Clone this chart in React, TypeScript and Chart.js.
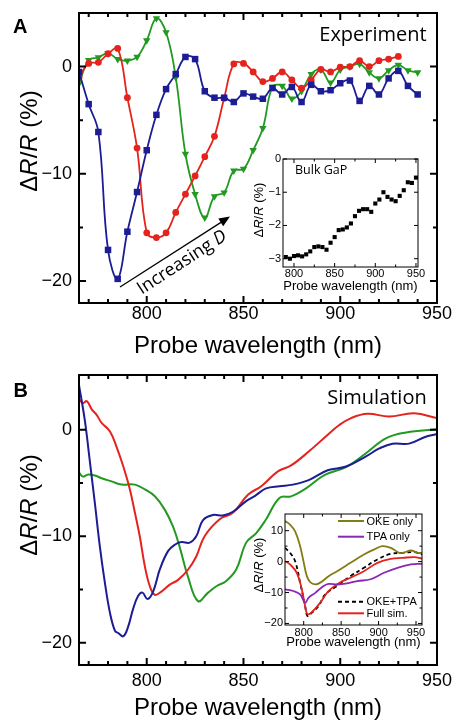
import React, { useEffect, useRef } from 'react';
import { Chart, registerables } from 'chart.js';

Chart.register(...registerables);
Chart.defaults.font.family = "'Liberation Sans', Arial, Helvetica, sans-serif";
Chart.defaults.color = '#000';

// ---------------- Panel A: experiment ----------------
const expWavelength = [765, 770, 775, 780, 785, 790, 795, 800, 805, 810, 815, 820, 825, 830, 835, 840, 845, 850, 855, 860, 865, 870, 875, 880, 885, 890, 895, 900, 905, 910, 915, 920, 925, 930, 935, 940];
const expBlue = [-0.5, -3.5, -6.1, -17.1, -19.8, -15.4, -11.7, -7.8, -4.5, -2.1, -0.7, 0.9, 0.7, -2.3, -2.9, -2.9, -3.3, -2.5, -2.8, -3.0, -2.0, -2.6, -1.9, -3.3, -1.7, -2.3, -2.2, -1.55, -1.3, -3.2, -1.8, -2.6, -1.1, -0.4, -1.8, -2.6];
const expRedWavelength = [765, 770, 775, 780, 785, 790, 795, 800, 805, 810, 815, 820, 825, 830, 835, 840, 845, 850, 855, 860, 865, 870, 875, 880, 885, 890, 895, 900, 905, 910, 915, 920, 925, 930];
const expRed = [-1.0, 0.3, 0.4, 1.2, 1.7, -2.9, -7.6, -15.5, -15.95, -15.5, -13.6, -11.9, -10.2, -8.4, -6.5, -2.95, 0.25, 0.3, -0.5, -1.4, -1.1, -0.5, -1.25, -2.0, -1.25, -0.25, -0.5, -0.05, 0, 0.55, 0, 0.55, 0.7, 0.95];
const expGreen = [-1.6, 0.6, 0.85, 1.25, 0.7, 0.55, 0.9, 2.45, 4.5, 3.2, -1.0, -8.15, -11.9, -14.1, -12.1, -11.75, -9.7, -9.55, -7.8, -5.75, -1.9, -1.8, -3.0, -2.3, -0.7, -0.3, -1.5, -0.3, 0, 0.25, -0.55, -1.1, -0.35, 0.15, -0.35, -0.55];

// Inset A: bulk GaP
const bulkWavelength = [790, 795, 800, 805, 810, 815, 820, 825, 830, 835, 840, 845, 850, 855, 860, 865, 870, 875, 880, 885, 890, 895, 900, 905, 910, 915, 920, 925, 930, 935, 940, 945, 950];
const bulkGaP = [-2.95, -3.0, -2.92, -2.9, -2.93, -2.87, -2.78, -2.65, -2.63, -2.65, -2.73, -2.52, -2.35, -2.14, -2.12, -2.06, -1.94, -1.72, -1.56, -1.51, -1.51, -1.59, -1.34, -1.22, -1.0, -1.14, -1.22, -1.27, -1.11, -0.94, -0.7, -0.72, -0.56];

// ---------------- Panel B: simulation ----------------
const simBlueWavelength = [765, 768, 770.7, 773.2, 775.8, 778.4, 781, 783.6, 785.3, 787.9, 790.4, 793, 795.6, 797.8, 800.4, 803.3, 806.8, 811, 814.5, 817.9, 822.2, 825.6, 829, 834.2, 839.4, 844.5, 851.4, 856, 861.7, 868.6, 875.5, 884, 893.5, 903, 913.3, 920.2, 927, 935.6, 944.2, 950];
const simBlue = [4.2, 0.9, -3.1, -6.9, -11.0, -14.4, -17.2, -18.9, -19.1, -19.4, -18.5, -16.8, -15.6, -15.3, -15.9, -15.2, -13.1, -11.4, -10.8, -10.55, -10.6, -10.0, -8.5, -8.0, -8.05, -7.7, -6.7, -6.2, -5.5, -5.3, -5.15, -4.7, -3.8, -3.45, -2.5, -1.75, -1.3, -1.3, -0.65, -0.4];
const simRedWavelength = [765, 767, 769, 771.5, 774.1, 776.7, 781, 784.4, 787.9, 791.3, 793.9, 796.4, 799, 801.6, 804.2, 807.6, 811.9, 816.2, 821.3, 825.6, 829.9, 837.7, 844.5, 852.3, 859.2, 867.8, 874.6, 884, 892.7, 899.5, 905.6, 914.1, 925.3, 938.2, 950];
const simRed = [2.9, 2.5, 2.7, 1.95, 1.4, 0.65, -0.15, -1.6, -3.45, -5.6, -7.8, -10.0, -12.8, -14.7, -15.5, -15.2, -14.55, -14.1, -13.15, -11.9, -10.0, -8.4, -7.8, -6.1, -5.3, -3.9, -3.35, -2.0, -0.6, 0.45, 1.1, 1.5, 1.25, 1.55, 1.1];
const simGreenWavelength = [765, 767, 769.8, 773.2, 776.7, 781.8, 787, 793.9, 799, 804.2, 809.3, 813.6, 817, 821.3, 826.5, 831.7, 836, 841.1, 846.3, 851.4, 856.6, 861.7, 868.6, 874.6, 882.3, 891.8, 903, 913.3, 923.6, 934, 950];
const simGreen = [-4.0, -4.4, -4.2, -4.3, -4.55, -4.85, -5.15, -5.15, -5.6, -6.25, -7.5, -9.1, -11.0, -13.8, -16.1, -15.3, -14.7, -14.2, -13.1, -10.6, -9.7, -8.4, -6.4, -6.25, -5.5, -4.25, -3.5, -2.2, -0.8, -0.25, 0.05];

// Inset B: contributions
const okeWavelength = [775, 781.7, 788.5, 795.2, 799.6, 804.2, 808.6, 815.4, 822.1, 833.3, 844.6, 862.5, 880.4, 893.8, 905.1, 916.3, 927.5, 932, 943.2, 952.2, 958];
const okeOnly = [13.1, 12.0, 9.8, 5.0, 0.2, -4.7, -6.6, -7.35, -6.8, -4.7, -3.1, -0.4, 2.3, 3.9, 5.0, 4.45, 2.85, 2.8, 3.6, 2.85, 2.8];
const tpaWavelength = [775, 786.2, 795.2, 801.9, 806.4, 815.4, 826.6, 833.3, 844.6, 857.9, 871.4, 889.4, 907.3, 925.3, 943.2, 958];
const tpaOnly = [-9.0, -9.5, -10.6, -13.3, -11.7, -10.1, -7.9, -7.2, -7.4, -7.05, -6.3, -5.7, -3.6, -2.0, -0.9, -0.7];
const sumWavelength = [775, 781.7, 788.5, 795.2, 801.9, 805.1, 811, 819.8, 828.8, 844.6, 862.5, 880.4, 898.4, 916.3, 932, 947.7, 958];
const okePlusTpa = [4.45, 2.85, 0.15, -6.8, -14.4, -17.6, -16.5, -14.4, -10.6, -7.9, -4.7, -2.0, 0.7, 2.5, 2.85, 3.05, 2.3];
const fullWavelength = [775, 781.7, 790.7, 797.5, 801.9, 805, 811, 822, 833.3, 846.8, 862.5, 880.4, 898.4, 916.3, 932, 947.7, 958];
const fullSim = [0.15, -0.9, -3.6, -9.0, -14.4, -17.0, -16.3, -13.3, -9.5, -7.0, -5.2, -3.1, -0.4, 0.9, 1.2, 1.45, 1.0];

// ---------------- tick values ----------------
const mainXTicks = [800, 850, 900, 950];
const mainXMinor = [770, 780, 790, 810, 820, 830, 840, 860, 870, 880, 890, 910, 920, 930, 940];
const mainYTicks = [-20, -10, 0];
const mainYMinor = [-15, -5];
const insetXTicks = [800, 850, 900, 950];
const insetXMinor = [825, 875, 925];
const insetAYTicks = [-3, -2, -1, 0];
const insetBYTicks = [-20, -10, 0, 10];
const insetBYMinor = [-15, -5, 5];

const BLUE = '#1c1c94';
const RED = '#e5231d';
const GREEN = '#229a22';
const OLIVE = '#857b14';
const PURPLE = '#8b27b4';

const pairs = (xs: number[], ys: number[]) => xs.map((x, i) => ({ x, y: ys[i] }));
const fmt = (v: number) => (v < 0 ? '\u2212' + Math.abs(v) : String(v));

interface Spec {
  width: number;
  height: number;
  padding: { left: number; right: number; top: number; bottom: number };
  yAxisWidth: number;
  xAxisHeight: number;
  xMin: number; xMax: number; yMin: number; yMax: number;
  xTicks: number[]; xMinor: number[]; yTicks: number[]; yMinor: number[];
  tickSize: number; xTickPad: number; yTickPad: number;
  titleSize: number; titlePad: number;
  frameWidth: number; majorLen: number; minorLen: number;
  fillArea: boolean;
  datasets: any[];
}

function framePlugin(spec: Spec) {
  return {
    id: 'frameTicks',
    beforeDatasetsDraw(chart: any) {
      if (!spec.fillArea) return;
      const { ctx, chartArea: a } = chart;
      ctx.save();
      ctx.fillStyle = '#fff';
      ctx.fillRect(a.left, a.top, a.right - a.left, a.bottom - a.top);
      ctx.restore();
    },
    afterDraw(chart: any) {
      const { ctx, chartArea: a, scales } = chart;
      const xs = scales.x;
      const ys = scales.y;
      ctx.save();
      ctx.strokeStyle = '#000';
      ctx.lineWidth = spec.frameWidth;
      ctx.beginPath();
      const xt = (vals: number[], len: number) =>
        vals.forEach((v) => {
          const p = xs.getPixelForValue(v);
          ctx.moveTo(p, a.bottom);
          ctx.lineTo(p, a.bottom - len);
          ctx.moveTo(p, a.top);
          ctx.lineTo(p, a.top + len);
        });
      const yt = (vals: number[], len: number) =>
        vals.forEach((v) => {
          const p = ys.getPixelForValue(v);
          ctx.moveTo(a.left, p);
          ctx.lineTo(a.left + len, p);
          ctx.moveTo(a.right, p);
          ctx.lineTo(a.right - len, p);
        });
      xt(spec.xTicks, spec.majorLen);
      xt(spec.xMinor, spec.minorLen);
      yt(spec.yTicks, spec.majorLen);
      yt(spec.yMinor, spec.minorLen);
      ctx.stroke();
      ctx.strokeRect(a.left, a.top, a.right - a.left, a.bottom - a.top);
      ctx.restore();
    },
  };
}

function buildConfig(spec: Spec): any {
  return {
    type: 'line',
    data: { datasets: spec.datasets },
    plugins: [framePlugin(spec)],
    options: {
      responsive: false,
      maintainAspectRatio: false,
      animation: false,
      events: [],
      layout: { padding: spec.padding },
      plugins: { legend: { display: false }, tooltip: { enabled: false } },
      scales: {
        x: {
          type: 'linear',
          position: 'bottom',
          min: spec.xMin,
          max: spec.xMax,
          grid: { display: false, drawTicks: false },
          border: { display: false },
          afterBuildTicks: (s: any) => {
            s.ticks = spec.xTicks.map((value) => ({ value }));
          },
          afterFit: (s: any) => {
            s.height = spec.xAxisHeight;
            s.paddingLeft = 0;
            s.paddingRight = 0;
          },
          ticks: {
            autoSkip: false,
            maxRotation: 0,
            minRotation: 0,
            padding: spec.xTickPad,
            color: '#000',
            font: { size: spec.tickSize, lineHeight: 1 },
            callback: (v: any) => fmt(Number(v)),
          },
          title: {
            display: true,
            text: 'Probe wavelength (nm)',
            color: '#000',
            font: { size: spec.titleSize, lineHeight: 1 },
            padding: { top: 0, bottom: spec.titlePad },
          },
        },
        y: {
          type: 'linear',
          position: 'left',
          min: spec.yMin,
          max: spec.yMax,
          grid: { display: false, drawTicks: false },
          border: { display: false },
          afterBuildTicks: (s: any) => {
            s.ticks = spec.yTicks.map((value) => ({ value }));
          },
          afterFit: (s: any) => {
            s.width = spec.yAxisWidth;
            s.paddingTop = 0;
            s.paddingBottom = 0;
          },
          ticks: {
            autoSkip: false,
            padding: spec.yTickPad,
            color: '#000',
            font: { size: spec.tickSize, lineHeight: 1 },
            callback: (v: any) => fmt(Number(v)),
          },
        },
      },
    },
  };
}

const markerLine = (xs: number[], ys: number[], color: string, style: string, radius: number, rotation = 0) => ({
  data: pairs(xs, ys),
  borderColor: color,
  backgroundColor: color,
  pointBackgroundColor: color,
  pointBorderColor: color,
  pointBorderWidth: 0,
  pointStyle: style,
  pointRadius: radius,
  pointRotation: rotation,
  borderWidth: 1.8,
  tension: 0.4,
});

const plainLine = (xs: number[], ys: number[], color: string, width = 2, dash: number[] = []) => ({
  data: pairs(xs, ys),
  borderColor: color,
  backgroundColor: color,
  pointRadius: 0,
  borderWidth: width,
  borderDash: dash,
  tension: 0.4,
});

const specA = (): Spec => ({
  width: 452, height: 360,
  padding: { left: 0, right: 15, top: 13, bottom: 0 },
  yAxisWidth: 79, xAxisHeight: 57,
  xMin: 765, xMax: 950, yMin: -22.05, yMax: 5,
  xTicks: mainXTicks, xMinor: mainXMinor, yTicks: mainYTicks, yMinor: mainYMinor,
  tickSize: 18, xTickPad: 2.5, yTickPad: 7,
  titleSize: 24, titlePad: 2,
  frameWidth: 2, majorLen: 7, minorLen: 4,
  fillArea: false,
  datasets: [
    markerLine(expWavelength, expBlue, BLUE, 'rect', 4.6),
    markerLine(expRedWavelength, expRed, RED, 'circle', 3.4),
    markerLine(expWavelength, expGreen, GREEN, 'triangle', 4.3, 180),
  ],
});

const specInsetA = (): Spec => ({
  width: 200, height: 150,
  padding: { left: 0, right: 22, top: 9, bottom: 0 },
  yAxisWidth: 43, xAxisHeight: 33,
  xMin: 786.5, xMax: 952.5, yMin: -3.25, yMax: 0,
  xTicks: insetXTicks, xMinor: insetXMinor, yTicks: insetAYTicks, yMinor: [],
  tickSize: 11, xTickPad: 1.5, yTickPad: 2,
  titleSize: 13, titlePad: 7,
  frameWidth: 1, majorLen: 4, minorLen: 2.5,
  fillArea: true,
  datasets: [
    {
      data: pairs(bulkWavelength, bulkGaP),
      showLine: false,
      borderColor: '#000',
      backgroundColor: '#000',
      pointBackgroundColor: '#000',
      pointBorderWidth: 0,
      pointStyle: 'rect',
      pointRadius: 2.9,
    },
  ],
});

const specB = (): Spec => ({
  width: 452, height: 360,
  padding: { left: 0, right: 15, top: 15, bottom: 0 },
  yAxisWidth: 79, xAxisHeight: 55,
  xMin: 765, xMax: 950, yMin: -22.1, yMax: 5.15,
  xTicks: mainXTicks, xMinor: mainXMinor, yTicks: mainYTicks, yMinor: mainYMinor,
  tickSize: 18, xTickPad: 7, yTickPad: 7,
  titleSize: 24, titlePad: 0,
  frameWidth: 2, majorLen: 7, minorLen: 4,
  fillArea: false,
  datasets: [
    plainLine(simBlueWavelength, simBlue, BLUE),
    plainLine(simRedWavelength, simRed, RED),
    plainLine(simGreenWavelength, simGreen, GREEN),
  ],
});

const specInsetB = (): Spec => ({
  width: 200, height: 150,
  padding: { left: 0, right: 18, top: 9, bottom: 0 },
  yAxisWidth: 45, xAxisHeight: 30,
  xMin: 775, xMax: 958, yMin: -20.5, yMax: 15.4,
  xTicks: insetXTicks, xMinor: insetXMinor, yTicks: insetBYTicks, yMinor: insetBYMinor,
  tickSize: 11, xTickPad: 2, yTickPad: 2,
  titleSize: 13, titlePad: 5.7,
  frameWidth: 1, majorLen: 4, minorLen: 2.5,
  fillArea: true,
  datasets: [
    plainLine(okeWavelength, okeOnly, OLIVE, 1.8),
    plainLine(tpaWavelength, tpaOnly, PURPLE, 1.8),
    plainLine(fullWavelength, fullSim, RED, 1.8),
    plainLine(sumWavelength, okePlusTpa, '#000', 1.8, [4, 3]),
  ],
});

function ChartBox({ make, left, top }: { make: () => Spec; left: number; top: number }) {
  const ref = useRef<HTMLCanvasElement>(null);
  const probe = make();
  useEffect(() => {
    const chart = new Chart(ref.current as HTMLCanvasElement, buildConfig(make()));
    return () => chart.destroy();
  }, []);
  return (
    <div style={{ position: 'absolute', left, top, width: probe.width, height: probe.height }}>
      <canvas ref={ref} width={probe.width} height={probe.height} style={{ width: probe.width, height: probe.height, display: 'block' }} />
    </div>
  );
}

const SANS = "'Liberation Sans', Arial, sans-serif";
const HUMAN = "'Open Sans', 'Noto Sans', sans-serif";

function Text({ left, right, top, size, family = SANS, bold = false, children }: any) {
  return (
    <div
      style={{
        position: 'absolute', left, right, top, fontSize: size, lineHeight: 1,
        fontFamily: family, fontWeight: bold ? 700 : 400, whiteSpace: 'nowrap', color: '#000',
      }}
    >
      {children}
    </div>
  );
}

function YTitle({ cx, cy, size }: { cx: number; cy: number; size: number }) {
  return (
    <div
      style={{
        position: 'absolute', left: cx, top: cy, fontSize: size, lineHeight: 1, fontFamily: SANS,
        whiteSpace: 'nowrap', color: '#000', transform: 'translate(-50%, -50%) rotate(-90deg)',
      }}
    >
      {'\u0394'}<i>R</i>/<i>R</i> (%)
    </div>
  );
}

export default function App() {
  return (
    <div style={{ position: 'absolute', left: 0, top: 0, width: 452, height: 720, background: '#fff', overflow: 'hidden' }}>
      <ChartBox make={specA} left={0} top={0} />
      <ChartBox make={specB} left={0} top={360} />
      <ChartBox make={specInsetA} left={240} top={150} />
      <ChartBox make={specInsetB} left={240} top={505} />

      <svg width={452} height={720} style={{ position: 'absolute', left: 0, top: 0 }}>
        <line x1={120} y1={287} x2={221} y2={222.4} stroke="#000" strokeWidth={1.3} />
        <polygon points="230,216.5 223.2,226.2 218.3,218.6" fill="#000" />
        <line x1={338} y1={521} x2={364} y2={521} stroke={OLIVE} strokeWidth={2} />
        <line x1={338} y1={536.7} x2={364} y2={536.7} stroke={PURPLE} strokeWidth={2} />
        <line x1={338} y1={601.7} x2={364} y2={601.7} stroke="#000" strokeWidth={2} strokeDasharray="4 3" />
        <line x1={338} y1={613.3} x2={364} y2={613.3} stroke={RED} strokeWidth={2} />
      </svg>

      <Text left={13} top={15.7} size={20} bold>A</Text>
      <Text left={13.5} top={379.8} size={20} bold>B</Text>
      <Text right={25.3} top={23.9} size={20} family={HUMAN}>Experiment</Text>
      <Text right={25.3} top={387.2} size={20} family={HUMAN}>Simulation</Text>
      <Text left={295} top={163.9} size={12.5} family={HUMAN}>Bulk GaP</Text>

      <div
        style={{
          position: 'absolute', left: 181, top: 261, fontSize: 18, lineHeight: 1, fontFamily: HUMAN,
          whiteSpace: 'nowrap', color: '#000', transform: 'translate(-50%, -50%) rotate(-33deg)',
        }}
      >
        Increasing <i>D</i>
      </div>

      <YTitle cx={28.5} cy={141} size={24} />
      <YTitle cx={28.5} cy={505} size={24} />
      <YTitle cx={258} cy={210} size={13} />
      <YTitle cx={258} cy={565} size={13} />

      <Text left={366.5} top={515.6} size={11}>OKE only</Text>
      <Text left={366.5} top={531.3} size={11}>TPA only</Text>
      <Text left={366.5} top={596.3} size={11}>OKE+TPA</Text>
      <Text left={366.5} top={607.9} size={11}>Full sim.</Text>
    </div>
  );
}
